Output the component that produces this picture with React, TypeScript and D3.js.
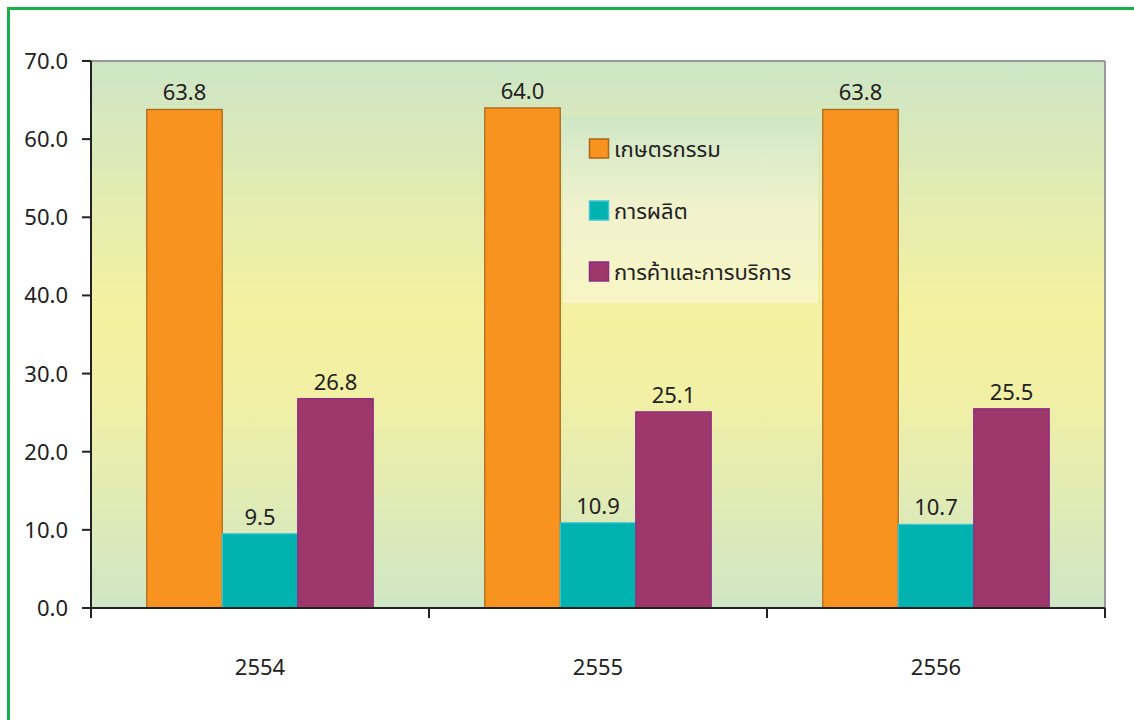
import React from "react";
import * as d3 from "d3";

const categories = ["2554", "2555", "2556"];
const seriesNames = ["เกษตรกรรม", "การผลิต", "การค้าและการบริการ"];
const agriculture = [63.8, 64.0, 63.8];
const manufacturing = [9.5, 10.9, 10.7];
const trade = [26.8, 25.1, 25.5];
const yTicks = [0, 10, 20, 30, 40, 50, 60, 70];

const fills = ["#f7931e", "#00b3ae", "#9e386a"];
const strokes = ["#a9651a", "#3cc6d8", "#8b2c8a"];

export default function App() {
  const W = 1134, H = 720;
  const left = 91, right = 1105, top = 61, bottom = 608;
  const series = [agriculture, manufacturing, trade];
  const x0 = d3.scaleBand<string>().domain(categories).range([left, right]).paddingInner(0).paddingOuter(0);
  const bw = x0.bandwidth();
  const groupW = bw * 0.67;
  const x1 = d3.scaleBand<number>().domain([0, 1, 2]).range([(bw - groupW) / 2, (bw + groupW) / 2]);
  const y = d3.scaleLinear().domain([0, 70]).range([bottom, top]);
  const font = "'Noto Sans Thai', 'Open Sans', 'Noto Sans', sans-serif";
  const legendY = [149, 211, 272];
  const fs = 22;

  return (
    <svg width={W} height={H} style={{ position: "absolute", left: 0, top: 0 }} fontFamily={font}>
      <defs>
        <linearGradient id="bg" x1="0" y1="0" x2="0" y2="1">
          <stop offset="0" stopColor="#cde5c6" />
          <stop offset="0.45" stopColor="#f4f1a0" />
          <stop offset="0.6" stopColor="#f2f0a4" />
          <stop offset="1" stopColor="#cfe6c5" />
        </linearGradient>
        <linearGradient id="lg" x1="0" y1="0" x2="0" y2="1">
          <stop offset="0" stopColor="#cfe7c8" />
          <stop offset="0.5" stopColor="#f2f3d0" />
          <stop offset="1" stopColor="#f8f6c8" />
        </linearGradient>
      </defs>
      <rect x={0} y={0} width={W} height={H} fill="#ffffff" />
      <rect x={8.5} y={8.5} width={W + 20} height={H + 20} fill="none" stroke="#17b04a" strokeWidth={3} />
      <rect x={left} y={top} width={right - left} height={bottom - top} fill="url(#bg)" />
      <line x1={left} y1={top} x2={right} y2={top} stroke="#9a9a9a" strokeWidth={2} />
      <line x1={right} y1={top} x2={right} y2={bottom} stroke="#9a9a9a" strokeWidth={2} />

      {categories.map((c, i) =>
        series.map((s, j) => {
          const bx = (x0(c) as number) + (x1(j) as number);
          const w = x1.bandwidth();
          return (
            <g key={`${c}-${j}`}>
              <rect x={bx} y={y(s[i])} width={w} height={bottom - y(s[i])} fill={fills[j]} stroke={strokes[j]} strokeWidth={1.2} />
              <text x={bx + w / 2} y={y(s[i]) - 9} textAnchor="middle" fontSize={fs} fill="#222">
                {s[i].toFixed(1)}
              </text>
            </g>
          );
        })
      )}

      {/* legend */}
      <rect x={563} y={117} width={255} height={186} fill="url(#lg)" opacity={0.9} />
      {seriesNames.map((n, j) => (
        <g key={n}>
          <rect x={589.5} y={legendY[j] - 10} width={19} height={19} fill={fills[j]} stroke={strokes[j]} strokeWidth={1.5} />
          <text x={614} y={legendY[j] + 8} fontSize={fs} fill="#222">{n}</text>
        </g>
      ))}

      {/* y axis */}
      <line x1={left} y1={top} x2={left} y2={bottom + 10} stroke="#222" strokeWidth={2} />
      {yTicks.map((t) => (
        <g key={t}>
          <line x1={left - 9} y1={y(t)} x2={left} y2={y(t)} stroke="#222" strokeWidth={2} />
          <text x={68} y={y(t) + 8} textAnchor="end" fontSize={fs} fill="#222">{t.toFixed(1)}</text>
        </g>
      ))}

      {/* x axis */}
      <line x1={left} y1={bottom} x2={right} y2={bottom} stroke="#222" strokeWidth={2} />
      {categories.map((c, i) => (
        <g key={c}>
          <line x1={(x0(c) as number) + bw} y1={bottom} x2={(x0(c) as number) + bw} y2={bottom + 10} stroke="#222" strokeWidth={2} />
          <text x={(x0(c) as number) + bw / 2} y={675} textAnchor="middle" fontSize={fs} fill="#222">{c}</text>
        </g>
      ))}
    </svg>
  );
}
